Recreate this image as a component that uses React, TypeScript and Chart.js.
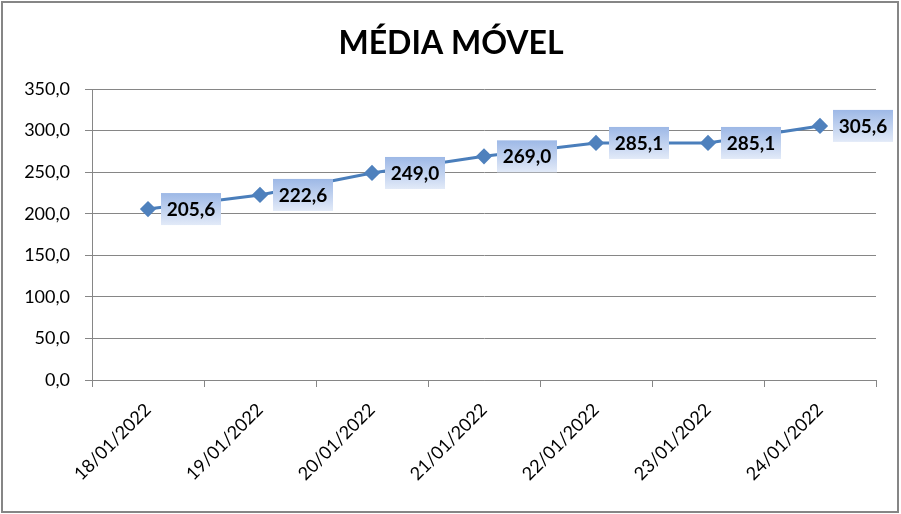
import React, { useEffect, useRef } from "react";
import { Chart, registerables } from "chart.js";

Chart.register(...registerables);

const categories = ["18/01/2022", "19/01/2022", "20/01/2022", "21/01/2022", "22/01/2022", "23/01/2022", "24/01/2022"];
const mediaMovel = [205.6, 222.6, 249.0, 269.0, 285.1, 285.1, 305.6];
const yTicks = [0, 50, 100, 150, 200, 250, 300, 350];
const title = "MÉDIA MÓVEL";

const FONT = "Lato, 'Open Sans', sans-serif";
const fmt = (v: number) => v.toFixed(1).replace(".", ",");

const decorPlugin = {
  id: "decor",
  beforeDraw(chart: any) {
    const ctx = chart.ctx;
    ctx.save();
    ctx.fillStyle = "#ffffff";
    ctx.fillRect(0, 0, chart.width, chart.height);
    ctx.strokeStyle = "#868686";
    ctx.lineWidth = 2;
    ctx.strokeRect(2, 2, 896, 510);
    ctx.fillStyle = "#000000";
    ctx.font = `bold 32px ${FONT}`;
    ctx.textAlign = "center";
    ctx.textBaseline = "middle";
    ctx.fillText(title, 451, 44);
    ctx.restore();
  },
  afterDatasetsDraw(chart: any) {
    const ctx = chart.ctx;
    const meta = chart.getDatasetMeta(0);
    ctx.save();
    meta.data.forEach((pt: any, i: number) => {
      const x = pt.x + 13;
      const y = pt.y - 16;
      const w = 60;
      const h = 32;
      const g = ctx.createLinearGradient(0, y, 0, y + h);
      g.addColorStop(0, "#9db8e6");
      g.addColorStop(1, "#e2eaf8");
      ctx.fillStyle = g;
      ctx.fillRect(x, y, w, h);
      ctx.fillStyle = "#000000";
      ctx.font = `bold 19px ${FONT}`;
      ctx.textAlign = "center";
      ctx.textBaseline = "middle";
      ctx.fillText(fmt(mediaMovel[i]), x + w / 2, y + h / 2 + 1);
    });
    ctx.restore();
  },
};

export default function App() {
  const ref = useRef<HTMLCanvasElement>(null);
  useEffect(() => {
    if (!ref.current) return;
    const chart = new Chart(ref.current, {
      type: "line",
      data: {
        labels: categories,
        datasets: [
          {
            data: mediaMovel,
            borderColor: "#4a7ebb",
            backgroundColor: "#4f81bd",
            borderWidth: 3,
            pointStyle: "rectRot",
            pointRadius: 6,
            pointBackgroundColor: "#4f81bd",
            pointBorderColor: "#4f81bd",
            tension: 0,
          },
        ],
      },
      options: {
        responsive: false,
        animation: false,
        layout: { padding: { top: 89, right: 25, left: 0, bottom: 0 } },
        plugins: { legend: { display: false }, tooltip: { enabled: false }, title: { display: false } },
        scales: {
          x: {
            offset: true,
            grid: { offset: true, drawOnChartArea: false, color: "#868686", tickLength: 7 },
            border: { color: "#868686" },
            ticks: {
              color: "#000000",
              font: { family: FONT, size: 18 },
              maxRotation: 45,
              minRotation: 45,
              padding: 12,
            },
            afterFit: (s: any) => {
              s.height = 134;
            },
          },
          y: {
            min: 0,
            max: 350,
            afterBuildTicks: (s: any) => {
              s.ticks = yTicks.map((v) => ({ value: v }));
            },
            grid: { color: "#868686", tickLength: 7 },
            border: { color: "#868686" },
            ticks: {
              color: "#000000",
              font: { family: FONT, size: 18 },
              padding: 15,
              callback: (v: any) => fmt(Number(v)),
            },
            afterFit: (s: any) => {
              s.width = 92;
            },
          },
        },
      },
      plugins: [decorPlugin],
    });
    return () => chart.destroy();
  }, []);
  return (
    <div style={{ position: "fixed", left: 0, top: 0, width: 901, height: 514 }}>
      <canvas ref={ref} width={901} height={514} style={{ display: "block" }} />
    </div>
  );
}
